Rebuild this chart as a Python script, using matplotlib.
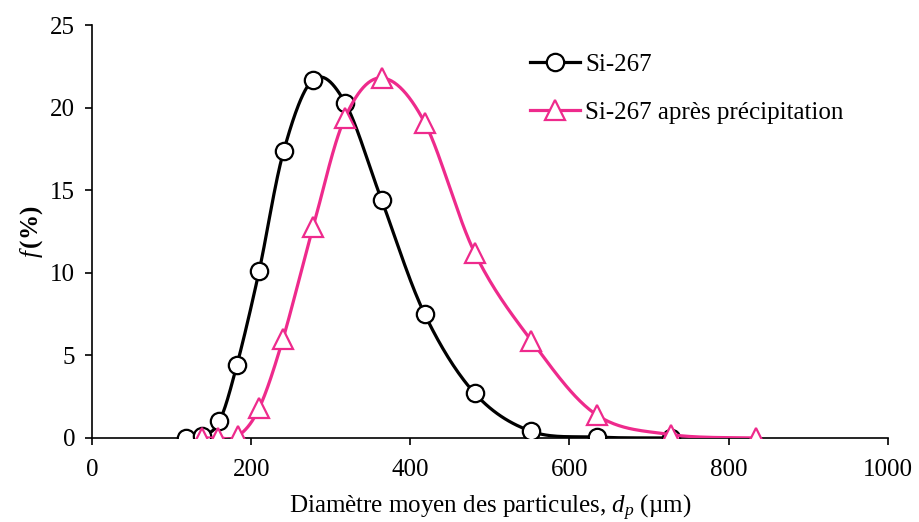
import numpy as np
import matplotlib
matplotlib.use('Agg')
import matplotlib.pyplot as plt

# distribution granulométrique
dp_si267 = [118, 138, 160, 182, 210, 241, 278, 318, 364, 418, 481, 552, 634, 728]
f_si267 = [0.0, 0.1, 1.0, 4.4, 10.1, 17.4, 21.7, 20.3, 14.4, 7.5, 2.7, 0.4, 0.05, 0.0]

dp_prec = [138, 158, 183, 210, 240, 278, 318, 364, 418, 481, 552, 634, 728, 835]
f_prec = [0.0, 0.0, 0.1, 1.8, 6.0, 12.8, 19.4, 21.8, 19.1, 11.2, 5.9, 1.4, 0.2, 0.0]

label_si267 = 'Si-267'
label_prec = 'Si-267 après précipitation'
rose = '#EE2A8C'

plt.rcParams['font.family'] = ['Liberation Serif', 'DejaVu Serif']
plt.rcParams['mathtext.fontset'] = 'custom'
plt.rcParams['mathtext.rm'] = 'Liberation Serif'
plt.rcParams['mathtext.it'] = 'Liberation Serif:italic'
plt.rcParams['mathtext.bf'] = 'Liberation Serif:bold'


def lissage(x, y, n=30):
    """courbe lissée type Excel (Catmull-Rom / Bezier)"""
    p = np.column_stack([x, y]).astype(float)
    p = np.vstack([p[0], p, p[-1]])
    t = np.linspace(0, 1, n)[:, None]
    seg = []
    for i in range(1, len(p) - 2):
        p0, p1, p2, p3 = p[i - 1], p[i], p[i + 1], p[i + 2]
        c1 = p1 + (p2 - p0) / 6
        c2 = p2 - (p3 - p1) / 6
        b = ((1 - t) ** 3) * p1 + 3 * ((1 - t) ** 2) * t * c1 + 3 * (1 - t) * t ** 2 * c2 + t ** 3 * p2
        seg.append(b)
    s = np.vstack(seg)
    return s[:, 0], s[:, 1]


fig = plt.figure(figsize=(9.2, 5.22), dpi=100)
ax = fig.add_axes([0.1, 0.161, 0.865, 0.791])

xs, ys = lissage(dp_si267, f_si267)
ax.plot(xs, ys, color='black', lw=2.3, zorder=2)
ax.plot(dp_si267, f_si267, ls='none', marker='o', ms=12.5, mfc='white', mec='black', mew=1.6, zorder=3)

xp, yp = lissage(dp_prec, f_prec)
ax.plot(xp, yp, color=rose, lw=2.3, zorder=4)
ax.plot(dp_prec, f_prec, ls='none', marker='^', ms=14, mfc='white', mec=rose, mew=1.6, zorder=5)

# entrées de légende
h1, = ax.plot([], [], color='black', lw=2.3, marker='o', ms=12.5, mfc='white', mec='black', mew=1.6)
h2, = ax.plot([], [], color=rose, lw=2.3, marker='^', ms=14, mfc='white', mec=rose, mew=1.6)
ax.legend([h1, h2], [label_si267, label_prec], loc='upper left', bbox_to_anchor=(0.522, 0.985),
          frameon=False, fontsize=18, handlelength=2.0, handletextpad=0.2, labelspacing=1.0)

ax.set_xlim(0, 1000)
ax.set_ylim(0, 25)
ax.set_xticks(np.arange(0, 1001, 200))
ax.set_yticks(np.arange(0, 26, 5))
ax.spines['top'].set_visible(False)
ax.spines['right'].set_visible(False)
ax.spines['left'].set_linewidth(1.2)
ax.spines['bottom'].set_linewidth(1.2)
ax.tick_params(direction='out', length=5, width=1.2, labelsize=18, pad=7)
ax.tick_params(axis='x', pad=10)

ax.set_xlabel(r'Diamètre moyen des particules, $d_p$ (µm)', fontsize=18, labelpad=9)
ax.set_ylabel(r'$\mathit{f}\,\mathbf{(\%)}$', fontsize=18, labelpad=4)

fig.savefig('out.png', dpi=100)
